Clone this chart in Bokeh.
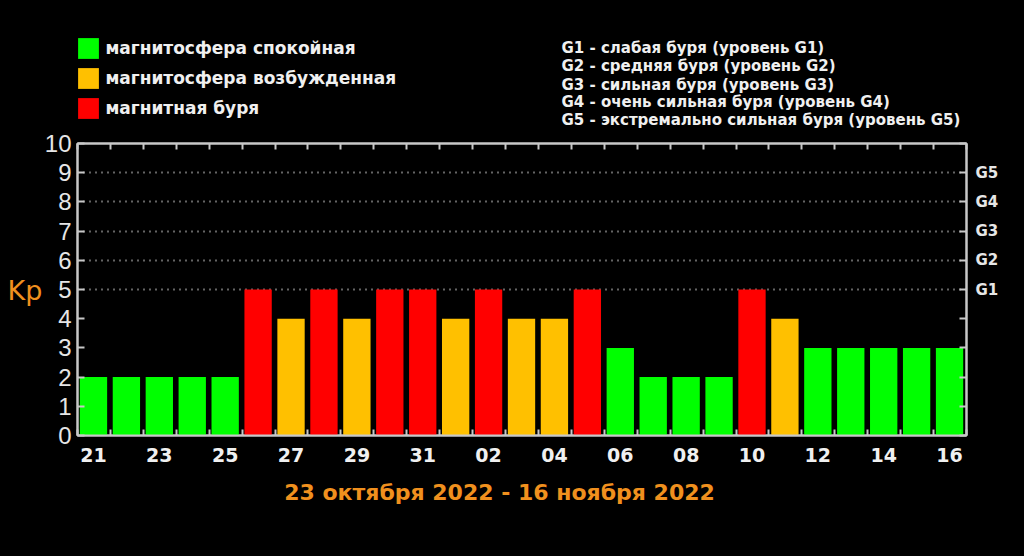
from bokeh.plotting import figure
from bokeh.layouts import column
from bokeh.models import (Range1d, LinearAxis, FixedTicker, Label, Legend, LegendItem,
                          ColumnDataSource, Grid)
from bokeh.embed import file_html
from bokeh.resources import INLINE

# ---- data ----
days = ["21", "22", "23", "24", "25", "26", "27", "28", "29", "30", "31",
        "01", "02", "03", "04", "05", "06", "07", "08", "09", "10",
        "11", "12", "13", "14", "15", "16"]
kp = [2, 2, 2, 2, 2, 5, 4, 5, 4, 5, 5, 4, 5, 4, 4, 5, 3, 2, 2, 2, 5, 4, 3, 3, 3, 3, 3]
legend_labels = ["магнитосфера спокойная", "магнитосфера возбужденная", "магнитная буря"]
legend_colors = ["#00ff00", "#ffc000", "#ff0000"]
g_labels = ["G1", "G2", "G3", "G4", "G5"]
g_levels = [5, 6, 7, 8, 9]
g_texts = ["G1 - слабая буря (уровень G1)",
           "G2 - средняя буря (уровень G2)",
           "G3 - сильная буря (уровень G3)",
           "G4 - очень сильная буря (уровень G4)",
           "G5 - экстремально сильная буря (уровень G5)"]
period_title = "23 октября 2022 - 16 ноября 2022"
y_title = "Kp"

# ---- layout constants ----
W, H = 1024, 556
HEAD = 128                       # header strip height
FL, FR, FT, FB = 77, 966, 143, 435  # frame in page pixels
N = len(days)
OFF = 0.485
XMIN, XMAX = -OFF, N - OFF
PXX = (FR - FL) / (XMAX - XMIN)
PXY = (FB - FT) / 10.0
GREY = "#c8c8c8"
WHITE = "#f0f0f0"
ORANGE = "#f0901e"


def sx(px):
    return (px - FL) / PXX + XMIN


def sy(py):
    return (FB - py) / PXY


def cat(v):
    return 0 if v < 4 else (1 if v == 4 else 2)


sources = []
for c in range(3):
    xs = [i for i, v in enumerate(kp) if cat(v) == c]
    tops = [kp[i] for i in xs]
    sources.append(ColumnDataSource(dict(x=xs, top=tops)))

# ================= header strip (legend + G scale description) =================
# (its frame is aligned by the column layout with the main frame: FL..FR)
hdr = figure(width=W, height=HEAD, x_range=Range1d(FL, FR), y_range=Range1d(HEAD, 0),
             x_axis_location=None, y_axis_location=None,
             output_backend="svg", toolbar_location=None,
             background_fill_color="black", border_fill_color="black",
             min_border=0)
hdr.outline_line_color = None
hdr.xgrid.visible = False
hdr.ygrid.visible = False

legend_renderers = []
for c in range(3):
    r = hdr.vbar(x="x", top="top", width=0.83, source=sources[c],
                 fill_color=legend_colors[c], line_color=None, visible=False)
    legend_renderers.append(r)

items = [LegendItem(label=legend_labels[c], renderers=[legend_renderers[c]]) for c in range(3)]
leg = Legend(items=items, location=(-1.6, 6.6), orientation="vertical",
             background_fill_alpha=0, border_line_alpha=0,
             inactive_fill_alpha=0,
             label_text_color=WHITE, label_text_font="DejaVu Sans",
             label_text_font_style="bold", label_text_font_size="17px",
             glyph_width=26, glyph_height=26, spacing=4, label_standoff=4,
             label_height=26, padding=0, margin=0)
hdr.add_layout(leg)

ys = [47, 65.5, 84, 101.5, 119]
for t, yy in zip(g_texts, ys):
    hdr.add_layout(Label(x=561, y=yy, text=t, text_align="left",
                         text_baseline="middle", text_color=WHITE,
                         text_font="DejaVu Sans", text_font_style="bold",
                         text_font_size="15px"))

# ================= main chart =================
MH = H - HEAD
p = figure(width=W, height=MH, x_range=Range1d(XMIN, XMAX), y_range=Range1d(0, 10),
           x_axis_location=None, y_axis_location=None,
           output_backend="svg", toolbar_location=None,
           background_fill_color="black", border_fill_color="black",
           min_border_left=FL, min_border_right=W - FR,
           min_border_top=FT - HEAD, min_border_bottom=H - FB)
p.outline_line_color = GREY
p.outline_line_width = 2
p.xgrid.visible = False
p.ygrid.visible = False

for c in range(3):
    p.vbar(x="x", top="top", bottom=0, width=0.83, source=sources[c],
           fill_color=legend_colors[c], line_color=None)

grid = Grid(dimension=1, ticker=FixedTicker(ticks=g_levels), grid_line_color=GREY,
            grid_line_dash="1 5", grid_line_width=2)
p.add_layout(grid)

boundaries = [i - OFF for i in range(N + 1)]

la = LinearAxis(ticker=FixedTicker(ticks=list(range(11))),
                major_tick_in=7, major_tick_out=0,
                axis_line_color=GREY, axis_line_width=2,
                major_tick_line_color=GREY, major_tick_line_width=2,
                major_label_text_color="#e6e6e6", major_label_text_font_size="24px",
                major_label_text_font="Liberation Sans", major_label_standoff=6)
p.add_layout(la, "left")

overrides = {i: "" for i in range(11)}
for lv, lb in zip(g_levels, g_labels):
    overrides[lv] = lb
ra = LinearAxis(ticker=FixedTicker(ticks=list(range(11))),
                major_tick_in=7, major_tick_out=0,
                axis_line_color=GREY, axis_line_width=2,
                major_tick_line_color=GREY, major_tick_line_width=2,
                major_label_overrides=overrides,
                major_label_text_color="#e6e6e6", major_label_text_font_size="15px",
                major_label_text_font="DejaVu Sans", major_label_text_font_style="bold",
                major_label_standoff=9)
p.add_layout(ra, "right")

lab_idx = list(range(0, N, 2))
ba = LinearAxis(ticker=FixedTicker(ticks=lab_idx, minor_ticks=boundaries),
                major_tick_in=0, major_tick_out=0,
                minor_tick_in=6, minor_tick_out=0,
                minor_tick_line_color=GREY, minor_tick_line_width=2,
                axis_line_color=GREY, axis_line_width=2,
                major_label_overrides={i: days[i] for i in lab_idx},
                major_label_text_color=WHITE, major_label_text_font_size="19px",
                major_label_text_font="DejaVu Sans", major_label_text_font_style="bold",
                major_label_standoff=12)
p.add_layout(ba, "below")

ta = LinearAxis(ticker=FixedTicker(ticks=[], minor_ticks=boundaries),
                major_tick_in=0, major_tick_out=0,
                minor_tick_in=6, minor_tick_out=0,
                minor_tick_line_color=GREY, minor_tick_line_width=2,
                axis_line_color=GREY, axis_line_width=2,
                major_label_text_font_size="0px", major_label_standoff=0)
p.add_layout(ta, "above")

# Kp label (in left panel so it is not clipped)
p.add_layout(Label(x=sx(7), y=sy(290), text=y_title, text_align="left",
                   text_baseline="middle", text_color=ORANGE,
                   text_font="DejaVu Sans", text_font_size="27px"), "left")

# period title (in bottom panel)
p.add_layout(Label(x=sx(499), y=sy(492), text=period_title, text_align="center",
                   text_baseline="middle", text_color=ORANGE,
                   text_font="DejaVu Sans", text_font_style="bold",
                   text_font_size="22px"), "below")

layout = column(hdr, p, spacing=0, styles={"background-color": "black"})
open("out.html", "w").write(file_html(layout, INLINE))
